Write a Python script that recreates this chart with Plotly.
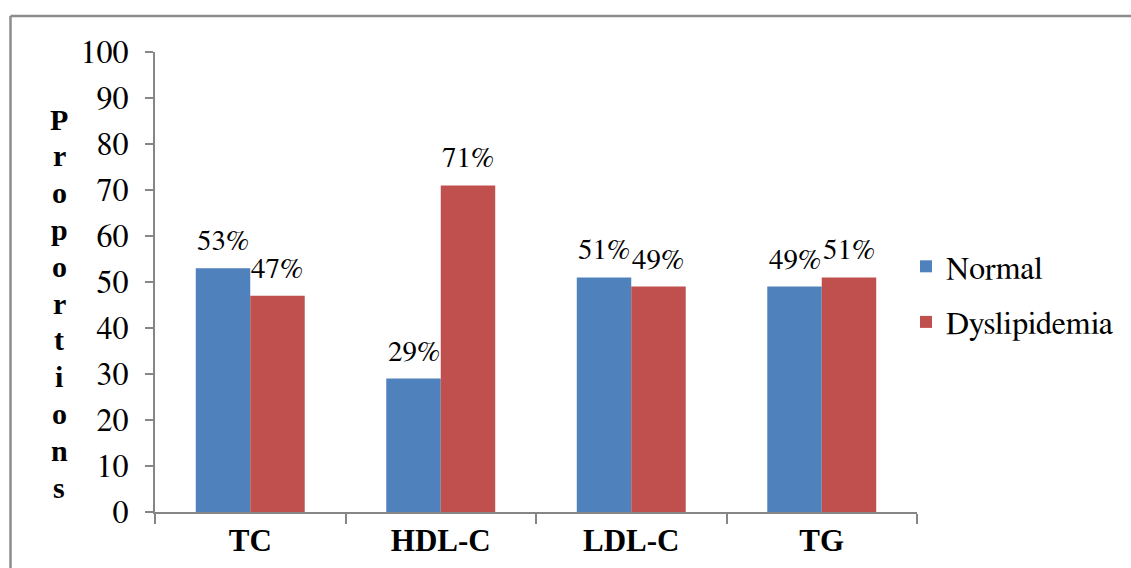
import plotly.graph_objects as go

categories = ["TC", "HDL-C", "LDL-C", "TG"]
normal = [53, 29, 51, 49]
dyslipidemia = [47, 71, 49, 51]
series_names = ["Normal", "Dyslipidemia"]
y_ticks = list(range(0, 101, 10))
y_title = "Proportions"

BLUE = "#4F81BD"
RED = "#C0504D"
AXIS = "#868686"
FONT_BOLD = "Liberation Serif"
FONT = "FreeSerif, Liberation Serif, serif"

W, H = 1131, 568
L, R, T, B = 155, 214, 52, 56
plot_w = W - L - R
plot_h = H - T - B
BARGAP = 0.428

fig = go.Figure()
for name, vals, col in [(series_names[0], normal, BLUE), (series_names[1], dyslipidemia, RED)]:
    fig.add_trace(go.Bar(
        x=categories, y=vals, name=name,
        marker=dict(color=col, line=dict(width=0)),
        legendgroup=name,
    ))

# percentage labels above each bar
cat_px = plot_w / len(categories)
bar_px = cat_px * (1 - BARGAP) / 2
annotations = []
for vals, sign in [(normal, -1), (dyslipidemia, 1)]:
    for c, v in zip(categories, vals):
        annotations.append(dict(
            x=c, y=v, xref="x", yref="y", text=f"{v}%", showarrow=False,
            xshift=sign * bar_px / 2, yshift=10, yanchor="bottom", xanchor="center",
            font=dict(family=FONT, size=29, color="#000000"),
        ))

# vertical stacked axis title
first_center = 119
step = 36.8
for i, ch in enumerate(y_title):
    py = first_center + i * step
    annotations.append(dict(
        x=(59 - L) / plot_w, y=(H - B - py) / plot_h, xref="paper", yref="paper",
        text=f"<b>{ch}</b>", showarrow=False, xanchor="center", yanchor="middle",
        font=dict(family=FONT_BOLD, size=30, color="#000000"),
    ))

# outer frame (top and left edges)
shapes = [
    dict(type="line", xref="paper", yref="paper",
         x0=(10.5 - L) / plot_w, x1=(W + 10 - L) / plot_w,
         y0=(H - B - 16) / plot_h, y1=(H - B - 16) / plot_h,
         line=dict(color="#8C8C8C", width=2.5)),
    dict(type="line", xref="paper", yref="paper",
         x0=(10.5 - L) / plot_w, x1=(10.5 - L) / plot_w,
         y0=(H - B - 16) / plot_h, y1=(H - B - H - 20) / plot_h,
         line=dict(color="#8C8C8C", width=2.5)),
]

fig.update_layout(
    width=W, height=H,
    margin=dict(l=L, r=R, t=T, b=B, pad=0, autoexpand=False),
    paper_bgcolor="white", plot_bgcolor="white",
    barmode="group", bargap=BARGAP, bargroupgap=0,
    font=dict(family=FONT, size=29, color="#000000"),
    xaxis=dict(
        range=[-0.5, 3.5], showline=True, linecolor=AXIS, linewidth=2,
        ticks="outside", tickson="boundaries", ticklen=10, tickwidth=2, tickcolor=AXIS,
        tickfont=dict(family=FONT_BOLD, size=31, color="#000000"),
        tickvals=categories, ticktext=[f"<b>{c}</b>" for c in categories],
        showgrid=False, zeroline=False, fixedrange=True,
    ),
    yaxis=dict(
        range=[0, 100], tickvals=y_ticks, showline=True, linecolor=AXIS, linewidth=2,
        ticks="outside", ticklen=8, tickwidth=2, tickcolor=AXIS,
        tickfont=dict(family=FONT, size=32, color="#000000"),
        showgrid=False, zeroline=False, ticklabelstandoff=10,
    ),
    legend=dict(
        x=(906 - L) / plot_w, xanchor="left", y=(H - B - 239) / plot_h, yanchor="top",
        font=dict(family=FONT, size=32, color="#000000"),
        tracegroupgap=11, bgcolor="rgba(0,0,0,0)", itemwidth=30,
    ),
    annotations=annotations, shapes=shapes,
    showlegend=True,
)

fig.write_html("out.html")
